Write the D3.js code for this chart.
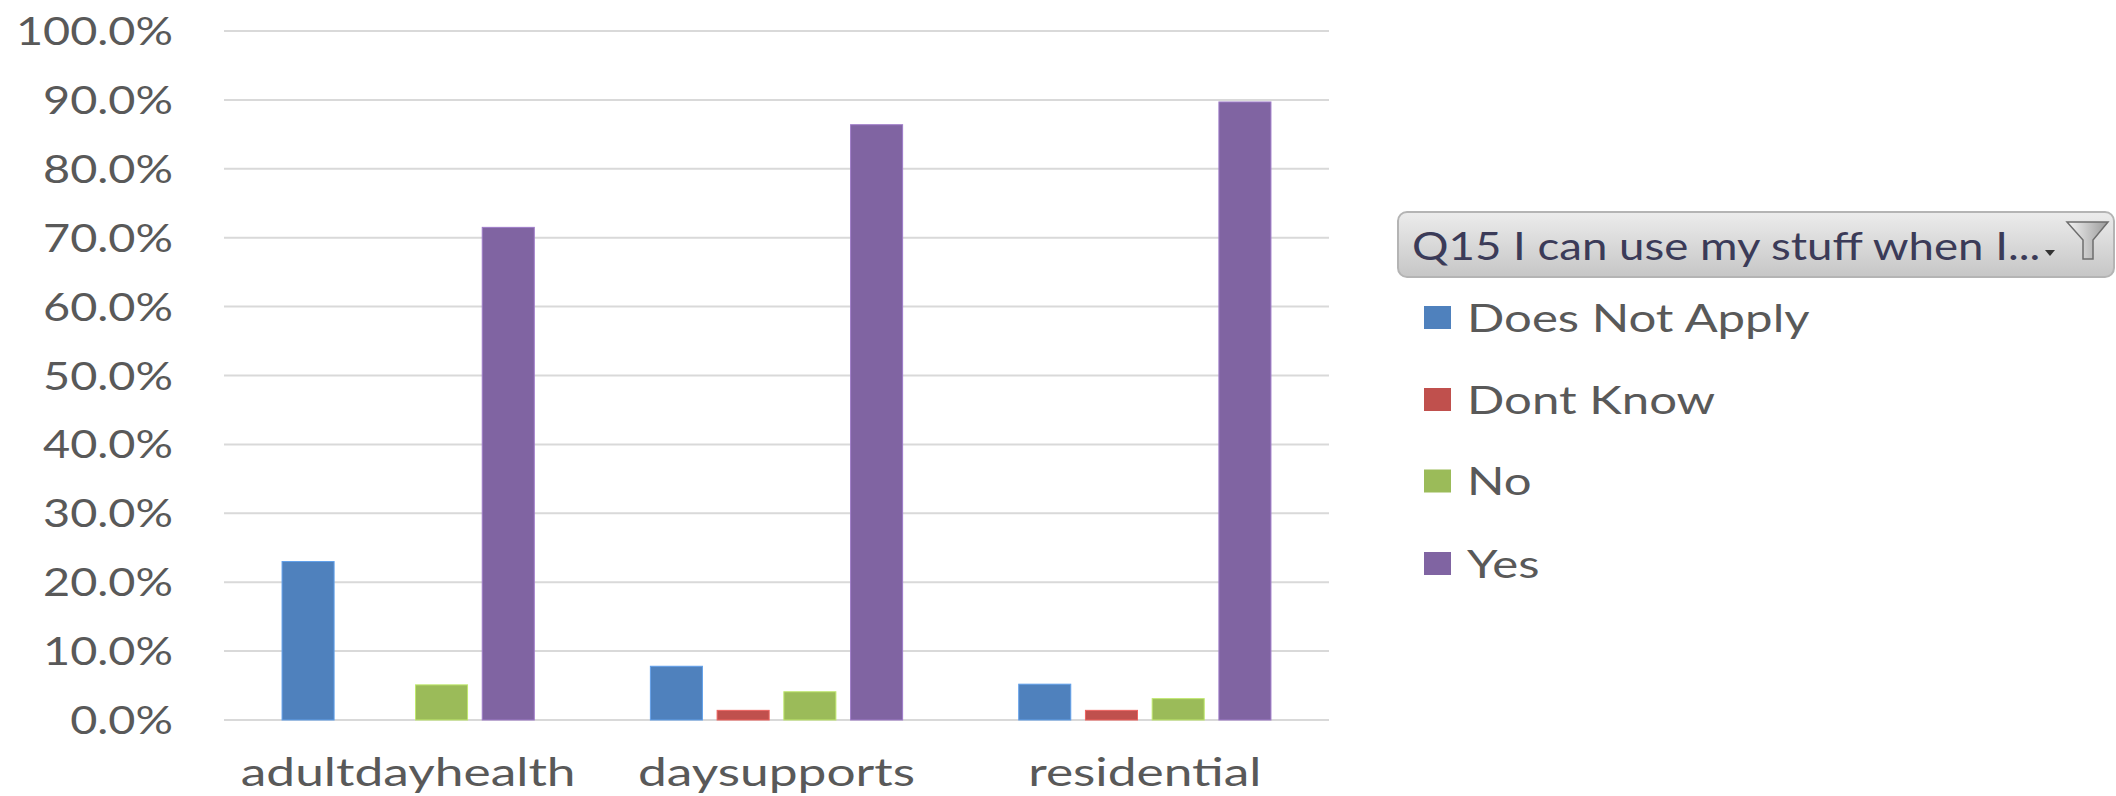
<!DOCTYPE html>
<html>
<head>
<meta charset="utf-8">
<script src="https://cdn.jsdelivr.net/npm/d3@7"></script>
<style>
  html, body { margin: 0; padding: 0; background: #ffffff; }
  svg { display: block; }
  text { font-family: Lato, "Open Sans", sans-serif; }
</style>
</head>
<body>
<svg id="chart" width="2116" height="796"></svg>
<script>
// ---- data ----
const categories = ["adultdayhealth", "daysupports", "residential"];
const seriesNames = ["Does Not Apply", "Dont Know", "No", "Yes"];
const doesNotApply = [0.230, 0.078, 0.052];
const dontKnow     = [0.000, 0.014, 0.014];
const noVals       = [0.051, 0.041, 0.031];
const yesVals      = [0.715, 0.864, 0.897];
const yTicks = [0, 0.1, 0.2, 0.3, 0.4, 0.5, 0.6, 0.7, 0.8, 0.9, 1.0];
const legendTitle = "Q15 I can use my stuff when I...";
const colors = ["#4F81BD", "#C0504D", "#9BBB59", "#8064A2"];

const seriesValues = [doesNotApply, dontKnow, noVals, yesVals];
const rows = categories.map((c, i) => ({
  cat: c,
  vals: seriesNames.map((s, j) => ({ key: s, value: seriesValues[j][i], color: colors[j] }))
}));

// ---- layout ----
const SX = 1.2;           // horizontal stretch of tick text, as in reference
const SX_CAT = 1.32;
const SX_LEG = 1.26;
const FS = 39;
const svg = d3.select("#chart");
const plot = { left: 224, right: 1329, top: 31, bottom: 720 };

const x0 = d3.scaleBand().domain(categories).range([plot.left, plot.right]).padding(0);
const x1 = d3.scaleBand().domain(seriesNames).range([0, x0.bandwidth()])
  .paddingInner(0.22).paddingOuter(0.87);
const y = d3.scaleLinear().domain([0, 1]).range([plot.bottom, plot.top]);

// gridlines
svg.append("g").selectAll("line").data(yTicks).join("line")
  .attr("x1", plot.left).attr("x2", plot.right)
  .attr("y1", d => y(d)).attr("y2", d => y(d))
  .attr("stroke", "#d9d9d9").attr("stroke-width", 2);

// y labels
const fmt = d3.format(".1%");
svg.append("g").selectAll("text").data(yTicks).join("text")
  .attr("transform", d => `translate(173,${y(d)}) scale(${SX},1)`)
  .attr("text-anchor", "end").attr("dy", "0.36em")
  .attr("font-size", FS).attr("fill", "#595959")
  .text(d => fmt(d));

// bars
const groups = svg.append("g").selectAll("g").data(rows).join("g")
  .attr("transform", d => `translate(${x0(d.cat)},0)`);
groups.selectAll("rect").data(d => d.vals.filter(v => v.value > 0)).join("rect")
  .attr("x", d => x1(d.key))
  .attr("width", x1.bandwidth())
  .attr("y", d => y(d.value))
  .attr("height", d => y(0) - y(d.value))
  .attr("fill", d => d.color)
  .attr("stroke", d => d3.color(d.color).brighter(0.6))
  .attr("stroke-width", 1);

// x labels
svg.append("g").selectAll("text").data(categories).join("text")
  .attr("transform", d => `translate(${x0(d) + x0.bandwidth() / 2},786) scale(${SX_CAT},1)`)
  .attr("text-anchor", "middle")
  .attr("font-size", FS).attr("fill", "#595959")
  .text(d => d);

// legend header (pivot field button)
const defs = svg.append("defs");
const grad = defs.append("linearGradient").attr("id", "btnGrad")
  .attr("x1", 0).attr("y1", 0).attr("x2", 0).attr("y2", 1);
grad.append("stop").attr("offset", "0%").attr("stop-color", "#ececec");
grad.append("stop").attr("offset", "100%").attr("stop-color", "#c6c6c6");
const fgrad = defs.append("linearGradient").attr("id", "funGrad")
  .attr("x1", 0).attr("y1", 0).attr("x2", 1).attr("y2", 0);
fgrad.append("stop").attr("offset", "0%").attr("stop-color", "#f4f4f4");
fgrad.append("stop").attr("offset", "100%").attr("stop-color", "#9a9a9a");

const lg = svg.append("g");
lg.append("rect").attr("x", 1398).attr("y", 212).attr("width", 716).attr("height", 65)
  .attr("rx", 9).attr("fill", "url(#btnGrad)").attr("stroke", "#b4b4b4").attr("stroke-width", 2);
lg.append("text").attr("transform", `translate(1412,260) scale(${SX},1)`)
  .attr("font-size", 38).attr("fill", "#3b3b58").text(legendTitle);
// dropdown arrow
lg.append("path").attr("d", "M2045,250 L2055,250 L2050,256 Z").attr("fill", "#333");
// funnel
lg.append("path")
  .attr("d", "M2067,222 L2108,222 L2093,240 L2093,259 L2083,259 L2083,240 Z")
  .attr("fill", "url(#funGrad)").attr("stroke", "#6e6e6e").attr("stroke-width", 1.5);

// legend items
const legY = [317.5, 399.5, 481, 563.5];
const items = lg.selectAll("g.item").data(seriesNames).join("g").attr("class", "item")
  .attr("transform", (d, i) => `translate(1424,${legY[i]})`);
items.append("rect").attr("x", 0).attr("y", -11.5).attr("width", 27).attr("height", 23)
  .attr("fill", (d, i) => colors[i]);
items.append("text").attr("transform", `translate(43,0) scale(${SX_LEG},1)`)
  .attr("dy", "0.36em").attr("font-size", FS).attr("fill", "#595959").text(d => d);
</script>
</body>
</html>
